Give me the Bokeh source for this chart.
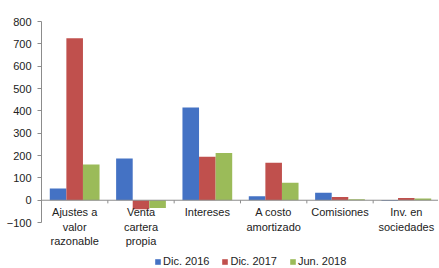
from bokeh.plotting import figure
from bokeh.models import Range1d, FixedTicker, Span, Legend, LegendItem, ColumnDataSource
from bokeh.core.properties import value
from bokeh.embed import file_html
from bokeh.resources import INLINE

categories = ["Ajustes a\nvalor\nrazonable", "Venta\ncartera\npropia", "Intereses",
              "A costo\namortizado", "Comisiones", "Inv. en\nsociedades"]
series_names = ["Dic. 2016", "Dic. 2017", "Jun. 2018"]
dic2016 = [53, 187, 415, 18, 33, -3]
dic2017 = [725, -40, 195, 168, 15, 10]
jun2018 = [160, -35, 212, 78, 5, 8]
colors = ["#4472C4", "#C0504D", "#9BBB59"]
y_ticks = [-100, 0, 100, 200, 300, 400, 500, 600, 700, 800]

FONT = "Liberation Sans"
n = len(categories)
centers = [i + 0.5 for i in range(n)]

p = figure(width=438, height=267, output_backend="svg", toolbar_location=None,
           x_range=Range1d(0, 5.985), y_range=Range1d(-301, 800),
           min_border_left=41, min_border_top=21, min_border_right=0, min_border_bottom=0)
p.outline_line_color = None
p.xgrid.visible = False
p.ygrid.visible = False
p.xaxis.visible = False

ya = p.yaxis[0]
ya.ticker = FixedTicker(ticks=y_ticks)
ya.bounds = (-100, 800)
ya.axis_line_color = "#8c8c8c"
ya.major_tick_line_color = "#8c8c8c"
ya.major_tick_out = 4
ya.major_tick_in = 0
ya.minor_tick_line_color = None
ya.major_label_text_font = FONT
ya.major_label_text_font_size = "11px"
ya.major_label_text_color = "#222222"
ya.major_label_standoff = 6

width = 0.25
offsets = [-0.25, 0.0, 0.25]
items = []
for name, vals, col, off in zip(series_names, [dic2016, dic2017, jun2018], colors, offsets):
    src = ColumnDataSource(dict(x=[c + off for c in centers], top=vals))
    r = p.vbar(x="x", top="top", bottom=0, width=width, source=src,
               fill_color=col, line_color=None)
    items.append(LegendItem(label=name, renderers=[r]))

p.add_layout(Span(location=0, dimension="width", line_color="#8c8c8c", line_width=1))
bounds = list(range(n + 1))
p.segment(x0=bounds, y0=[0] * len(bounds), x1=bounds, y1=[-14] * len(bounds),
          line_color="#8c8c8c", line_width=1)

p.text(x=centers, y=[0] * n, text=categories, text_font=value(FONT),
       text_font_size="11px", text_color="#222222", text_align="center",
       text_baseline="top", y_offset=6, text_line_height=1.2)

legend = Legend(items=items, location=(113, 0), orientation="horizontal",
                label_text_font=FONT, label_text_font_size="11px",
                label_text_color="#222222", glyph_width=7, glyph_height=7,
                spacing=12, label_standoff=2, padding=0, margin=0,
                background_fill_alpha=0, border_line_color=None,
                label_height=12)
p.add_layout(legend)

open("out.html", "w").write(file_html(p, INLINE))
